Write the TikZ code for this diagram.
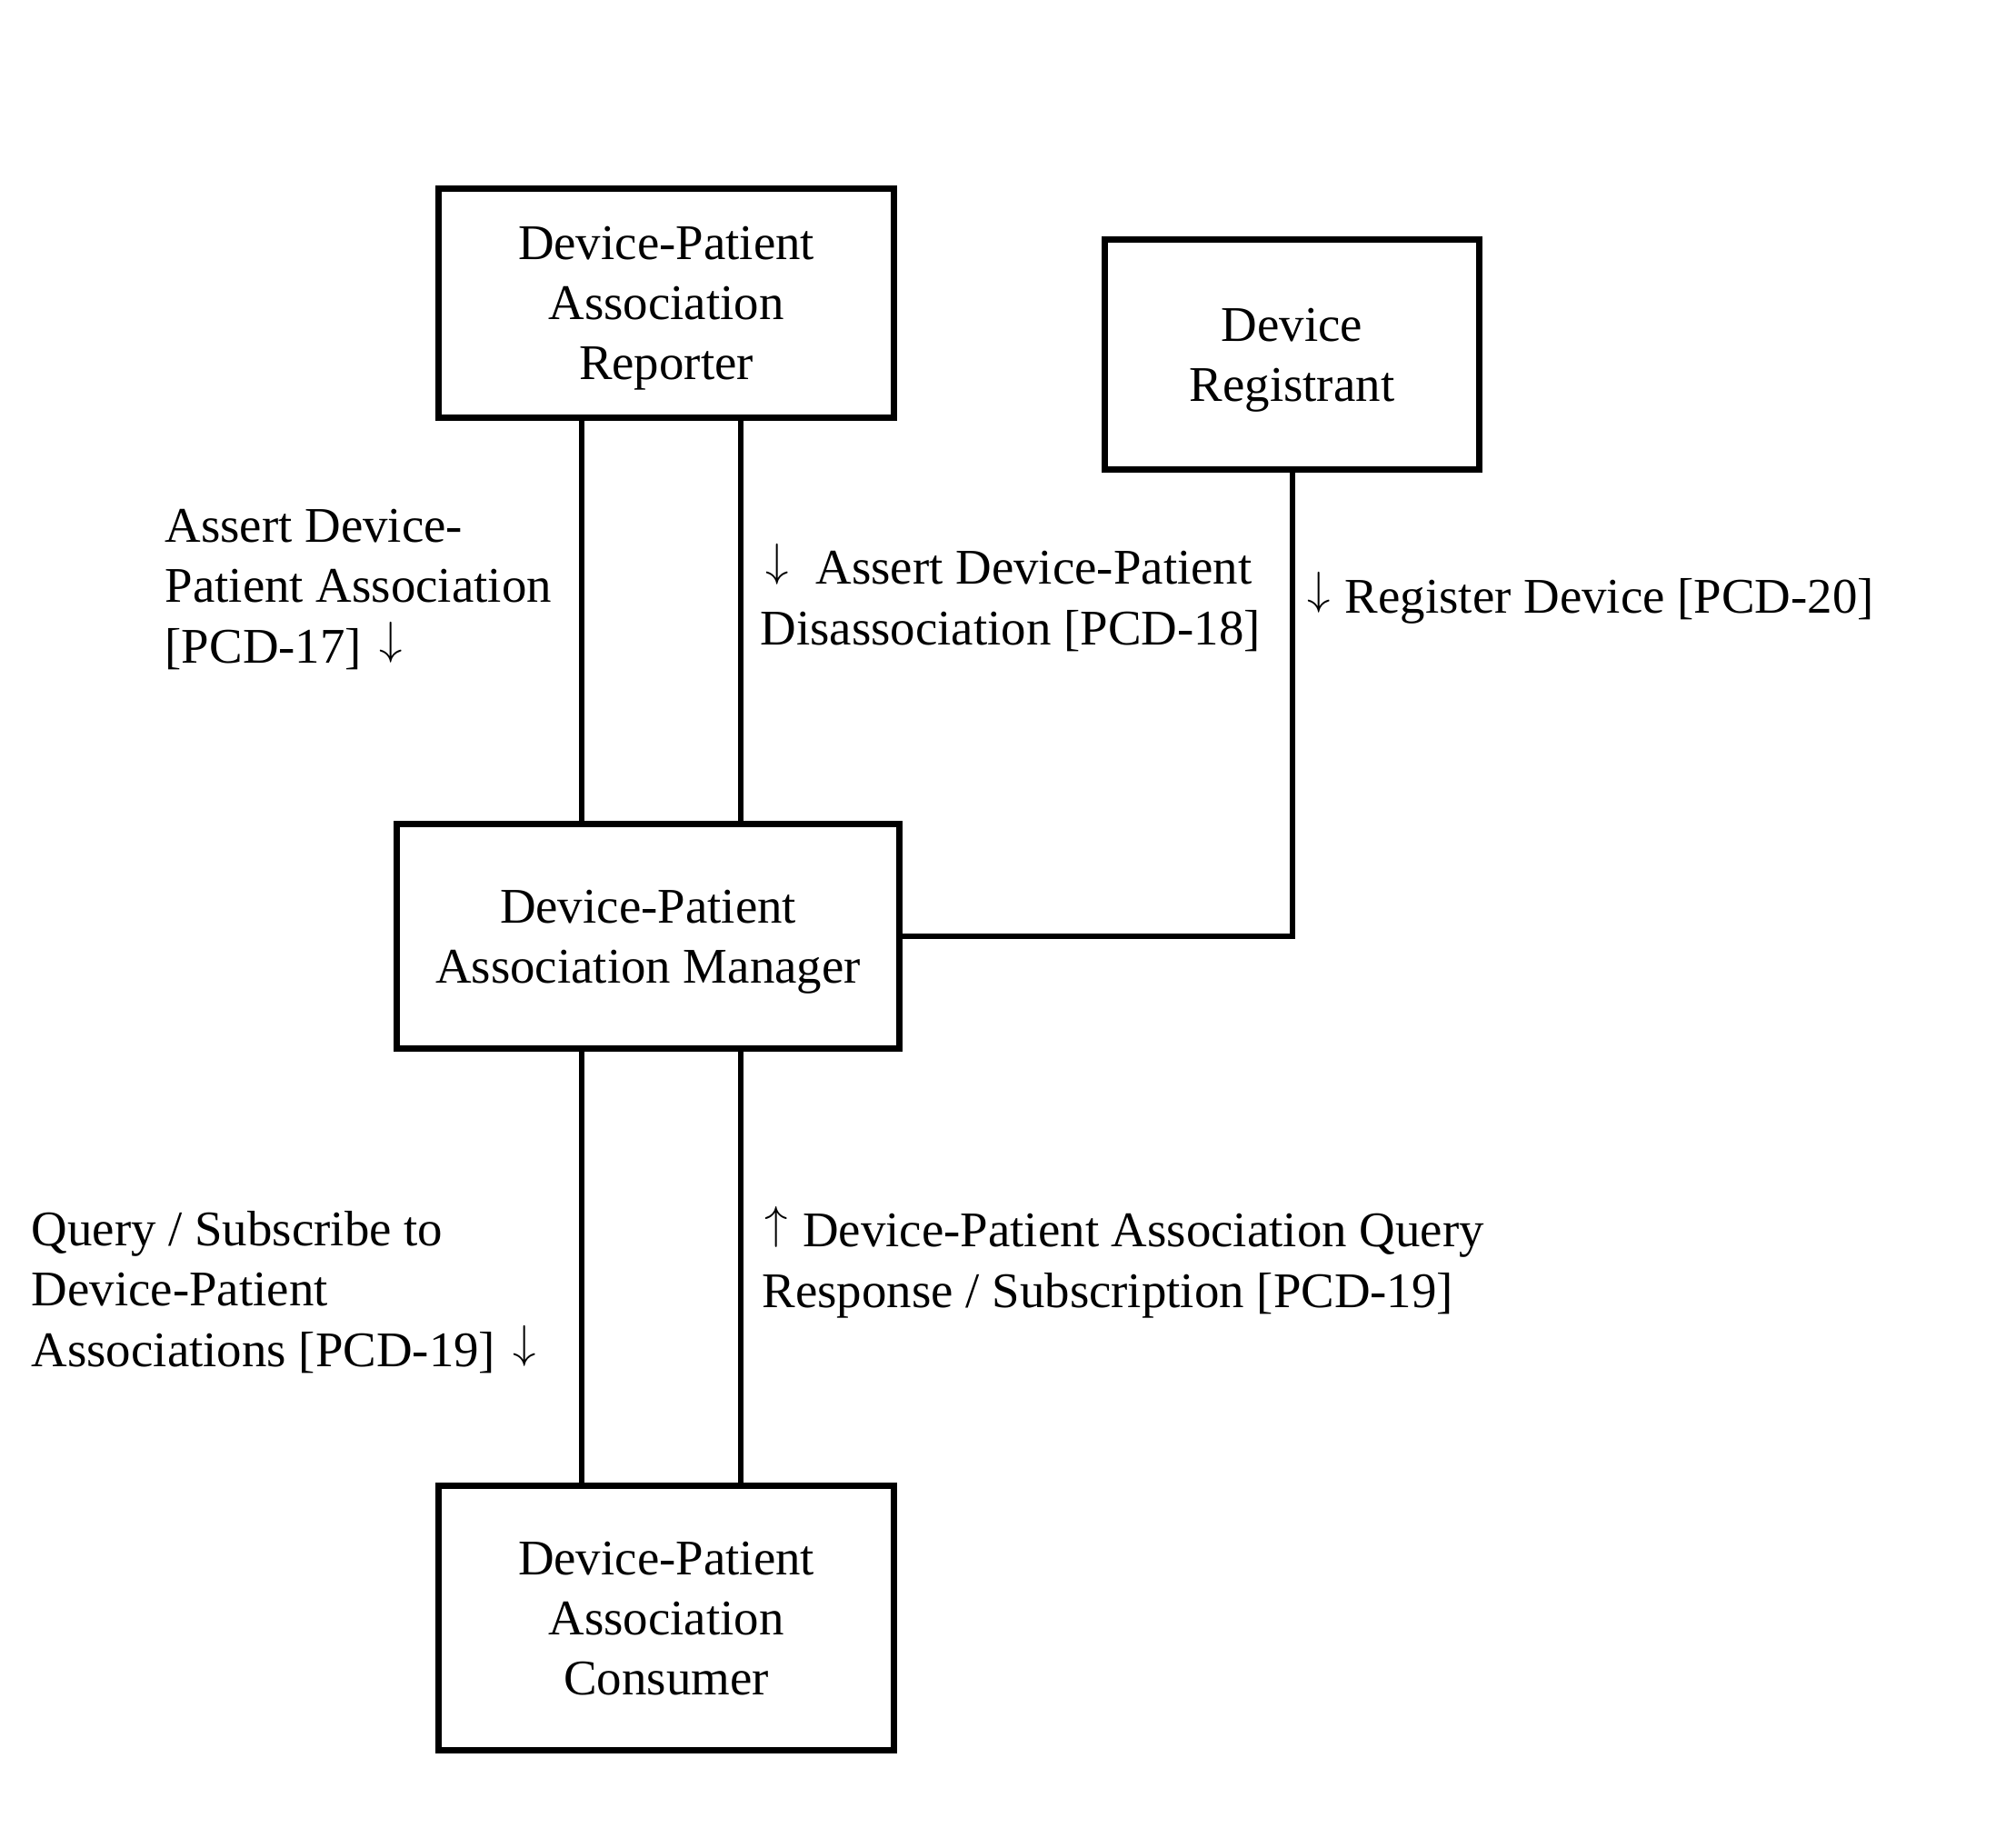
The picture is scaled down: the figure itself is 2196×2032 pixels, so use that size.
\documentclass[tikz,border=0pt]{standalone}
\usepackage{fontspec}
\setmainfont{Liberation Serif}
\newcommand\arrdown{\hspace{0.1em}\raisebox{0.17em}{$\downarrow$}\hspace{0.05em}}
\newcommand\arrup{\hspace{0.05em}\raisebox{0.17em}{$\uparrow$}\hspace{0.05em}}

\begin{document}
\begin{tikzpicture}[x=0.01cm,y=-0.01cm,
    font=\fontsize{15.6pt}{18.8pt}\selectfont,
    actor/.style={draw, line width=0.07cm, align=center, inner sep=0pt, text depth=0pt},
    link/.style={line width=0.06cm},
    msg/.style={align=left, inner sep=0pt, anchor=base west}]

    % page size
    \useasboundingbox (0,0) rectangle (2196,2032);

    % draw actors
    \node[actor, minimum width=5.01cm, minimum height=2.52cm] (rep) at (733,333.5) {Device-Patient\\Association\\Reporter};
    \node[actor, minimum width=4.12cm, minimum height=2.53cm] (reg) at (1421.5,390) {Device\\Registrant};
    \node[actor, minimum width=5.53cm, minimum height=2.47cm] (mgr) at (713,1030) {Device-Patient\\Association Manager};
    \node[actor, minimum width=5.01cm, minimum height=2.91cm] (con) at (733,1780) {Device-Patient\\Association\\Consumer};

    % draw transactions
    \draw[link] ([xshift=-0.93cm]rep.south) -- ([xshift=-0.93cm]rep.south |- mgr.north);
    \draw[link] ([xshift=0.82cm]rep.south) -- ([xshift=0.82cm]rep.south |- mgr.north);
    \draw[link] (reg.south) |- (mgr.east);
    \draw[link] ([xshift=-0.73cm]mgr.south) -- ([xshift=-0.73cm]mgr.south |- con.north);
    \draw[link] ([xshift=1.02cm]mgr.south) -- ([xshift=1.02cm]mgr.south |- con.north);

    % transaction labels (placed at the baseline of the last line)
    \node[msg] (pcd17) at (181,729) {Assert Device-\\Patient Association\\{[PCD-17]} \arrdown};
    \node[msg] (pcd18) at (836,709) {\arrdown\ \ Assert Device-Patient\\Disassociation [PCD-18]};
    \node[msg] (pcd20) at (1432,674) {\arrdown\ Register Device [PCD-20]};
    \node[msg] (pcd19q) at (34,1503) {Query / Subscribe to\\Device-Patient\\Associations [PCD-19] \arrdown};
    \node[msg] (pcd19r) at (838,1438) {\arrup\ Device-Patient Association Query\\Response / Subscription [PCD-19]};
\end{tikzpicture}
\end{document}
